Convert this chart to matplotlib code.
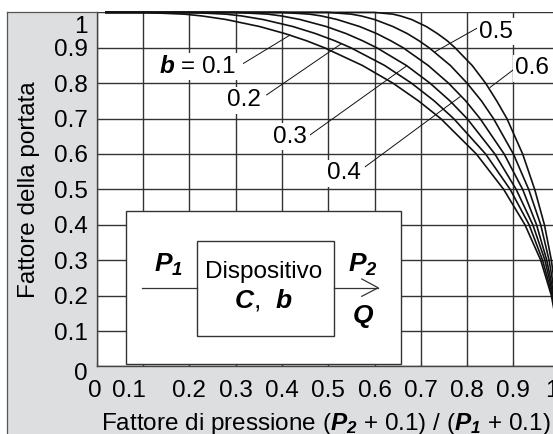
import numpy as np
import matplotlib.pyplot as plt
import matplotlib.transforms as mtrans
from matplotlib.patches import Rectangle
from matplotlib.lines import Line2D

plt.rcParams['font.family'] = ['Liberation Sans', 'DejaVu Sans']
plt.rcParams['mathtext.fontset'] = 'custom'
plt.rcParams['mathtext.rm'] = 'Liberation Sans'
plt.rcParams['mathtext.it'] = 'Liberation Sans:italic'
plt.rcParams['mathtext.bf'] = 'Liberation Sans:bold'
plt.rcParams['mathtext.bfit'] = 'Liberation Sans:italic:bold'

# flow factor levels shared by all curves
flow_levels = [1.0, 1.0, 0.995, 0.99, 0.98, 0.96, 0.94, 0.92, 0.9, 0.85,
               0.8, 0.75, 0.7, 0.6, 0.5, 0.4, 0.3, 0.2, 0.1, 0.0]

# pressure factor at each flow level, one list per b value
b_values = [0.1, 0.2, 0.3, 0.4, 0.5, 0.6]
press_b01 = [0.02, 0.1, 0.19, 0.227, 0.279, 0.352, 0.407, 0.453, 0.492, 0.574,
             0.64, 0.695, 0.743, 0.82, 0.879, 0.925, 0.959, 0.982, 0.996, 1.0]
press_b02 = [0.02, 0.2, 0.28, 0.313, 0.359, 0.424, 0.473, 0.514, 0.549, 0.622,
             0.68, 0.729, 0.771, 0.84, 0.893, 0.934, 0.963, 0.984, 0.996, 1.0]
press_b03 = [0.02, 0.3, 0.37, 0.399, 0.439, 0.496, 0.539, 0.574, 0.605, 0.669,
             0.72, 0.763, 0.8, 0.86, 0.906, 0.942, 0.968, 0.986, 0.997, 1.0]
press_b04 = [0.02, 0.4, 0.46, 0.485, 0.519, 0.568, 0.605, 0.635, 0.662, 0.716,
             0.76, 0.797, 0.828, 0.88, 0.92, 0.95, 0.972, 0.988, 0.997, 1.0]
press_b05 = [0.02, 0.5, 0.55, 0.571, 0.6, 0.64, 0.671, 0.696, 0.718, 0.764,
             0.8, 0.831, 0.857, 0.9, 0.933, 0.959, 0.977, 0.99, 0.998, 1.0]
press_b06 = [0.02, 0.6, 0.64, 0.656, 0.68, 0.712, 0.736, 0.757, 0.774, 0.811,
             0.84, 0.864, 0.886, 0.92, 0.946, 0.967, 0.982, 0.992, 0.998, 1.0]
curves = [press_b01, press_b02, press_b03, press_b04, press_b05, press_b06]

# curve labels: text anchor, leader start, leader end
label_texts = ['$\\mathbfit{b}$ = 0.1', '0.2', '0.3', '0.4', '0.5', '0.6']
label_pos = [(0.302, 0.847), (0.318, 0.752), (0.418, 0.649),
             (0.534, 0.545), (0.863, 0.945), (0.941, 0.842)]
label_ha = ['right', 'center', 'center', 'center', 'center', 'center']
leader_start = [(0.317, 0.856), (0.367, 0.767), (0.461, 0.654),
                (0.580, 0.564), (0.821, 0.955), (0.904, 0.842)]
leader_end = [(0.4175, 0.936), (0.529, 0.912), (0.6695, 0.849),
              (0.785, 0.762), (0.731, 0.889), (0.8495, 0.788)]

x_ticks = [0, 0.1, 0.2, 0.3, 0.4, 0.5, 0.6, 0.7, 0.8, 0.9, 1.0]
x_ticklabels = ['0', '0.1', '0.2', '0.3', '0.4', '0.5', '0.6', '0.7', '0.8', '0.9', '1']
y_ticks = [0, 0.1, 0.2, 0.3, 0.4, 0.5, 0.6, 0.7, 0.8, 0.9, 1.0]
y_ticklabels = ['0', '0.1', '0.2', '0.3', '0.4', '0.5', '0.6', '0.7', '0.8', '0.9', '1']

FS = 17.5
W, H = 553, 434
fig = plt.figure(figsize=(W / 100, H / 100), dpi=100)
fig.patch.set_facecolor('white')

ax_left, ax_bottom = 96.7 / W, (H - 366.4) / H
ax_w, ax_h = 463 / W, 354 / H
ax_top = ax_bottom + ax_h

# grey frame behind the axes
fig.patches.append(Rectangle((7 / W, 0), 1, ax_top, transform=fig.transFigure,
                             facecolor='#dddee0', edgecolor='none', zorder=-10))
fig.lines.append(Line2D([7 / W, 7 / W], [0, ax_top], transform=fig.transFigure,
                        color='#555555', lw=0.9))
fig.lines.append(Line2D([7 / W, ax_left], [ax_top, ax_top], transform=fig.transFigure,
                        color='#555555', lw=0.9))

ax = fig.add_axes([ax_left, ax_bottom, ax_w, ax_h])
ax.set_xlim(0, 1)
ax.set_ylim(0, 1)
ax.set_axisbelow(True)
ax.grid(True, color='#333333', lw=1.0)

for xs in curves:
    ax.plot(xs, flow_levels, color='#111111', lw=1.2, clip_on=False, zorder=2)

for txt, pos, ha, p0, p1 in zip(label_texts, label_pos, label_ha, leader_start, leader_end):
    ax.plot([p0[0], p1[0]], [p0[1], p1[1]], color='#111111', lw=0.7, zorder=2)
    ax.text(pos[0], pos[1], txt, ha=ha, va='center', fontsize=FS, zorder=4,
            bbox=dict(boxstyle='square,pad=0.1', fc='white', ec='none'))

# device sketch
ax.add_patch(Rectangle((0.063, 0.007), 0.594, 0.432, fc='white', ec='#333333', lw=1.0, zorder=3))
ax.add_patch(Rectangle((0.217, 0.085), 0.296, 0.27, fc='white', ec='#333333', lw=1.0, zorder=4))
ax.plot([0.097, 0.217], [0.222, 0.222], color='#333333', lw=0.9, zorder=4)
ax.plot([0.513, 0.608], [0.222, 0.222], color='#333333', lw=0.9, zorder=4)
ax.plot([0.5725, 0.608, 0.5725], [0.247, 0.222, 0.198], color='#333333', lw=0.9, zorder=4)
ax.text(0.1546, 0.286, '$\\mathbfit{P}_{\\mathbfit{1}}$', ha='center', va='center', fontsize=19, zorder=5)
ax.text(0.575, 0.286, '$\\mathbfit{P}_{\\mathbfit{2}}$', ha='center', va='center', fontsize=19, zorder=5)
ax.text(0.575, 0.142, '$\\mathbfit{Q}$', ha='center', va='center', fontsize=19, zorder=5)
ax.text(0.36, 0.2675, 'Dispositivo', ha='center', va='center', fontsize=FS, zorder=5)
ax.text(0.359, 0.1876, '$\\mathbfit{C}$,  $\\mathbfit{b}$', ha='center', va='center', fontsize=19, zorder=5)

ax.set_xticks(x_ticks)
ax.set_xticklabels(x_ticklabels, fontsize=FS)
ax.set_yticks(y_ticks)
ax.set_yticklabels(y_ticklabels, fontsize=FS)
ax.tick_params(axis='x', direction='in', length=3, width=0.8, color='#333333', pad=10)
ax.tick_params(axis='y', length=0, pad=6.5)
for side in ['top', 'right']:
    ax.spines[side].set_visible(False)
for side in ['left', 'bottom']:
    ax.spines[side].set_color('#444444')
    ax.spines[side].set_linewidth(1.0)

def shift(label, dx, dy):
    label.set_transform(label.get_transform() +
                        mtrans.ScaledTranslation(dx / 100, dy / 100, fig.dpi_scale_trans))

xl = ax.get_xticklabels()
shift(xl[0], -1.5, 0)
shift(xl[1], -14.5, 0)
shift(xl[-1], -8, 0)
yl = ax.get_yticklabels()
shift(yl[0], 0, -5)
shift(yl[-1], 0, -12)

ax.set_xlabel('Fattore di pressione ($\\mathbfit{P}_{\\mathbfit{2}}$ + 0.1) / ($\\mathbfit{P}_{\\mathbfit{1}}$ + 0.1)',
              fontsize=FS)
ax.xaxis.set_label_coords(0.495, -0.127)
ax.set_ylabel('Fattore della portata', fontsize=FS)
ax.yaxis.set_label_coords(-0.123, 0.5)

fig.savefig('out.png', dpi=100)
